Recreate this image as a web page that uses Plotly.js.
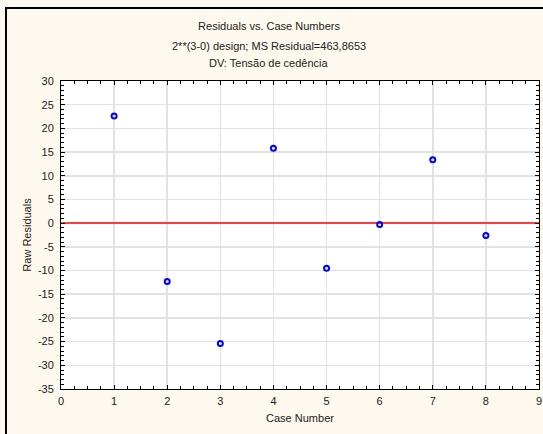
<!DOCTYPE html>
<html>
<head>
<meta charset="utf-8">
<script src="https://cdn.plot.ly/plotly-3.0.1.min.js"></script>
<style>
html,body{margin:0;padding:0;background:#fdf9ee;}
#wrap{position:relative;width:543px;height:434px;overflow:hidden;}
#chart{position:absolute;left:0;top:0;width:543px;height:434px;}
#frame{position:absolute;left:5px;top:7px;width:600px;height:500px;border-left:2px solid #000;border-top:2px solid #000;pointer-events:none;}
</style>
</head>
<body>
<div id="wrap"><div id="chart"></div><div id="frame"></div></div>
<script>
var caseNumbers = [1, 2, 3, 4, 5, 6, 7, 8];
var rawResiduals = [22.6, -12.3, -25.4, 15.8, -9.5, -0.3, 13.4, -2.6];
var titleLines = ["Residuals vs. Case Numbers", "2**(3-0) design; MS Residual=463,8653", "DV: Tensão de cedência"];
var xTitle = "Case Number";
var yTitle = "Raw Residuals";
var xTickVals = [0, 1, 2, 3, 4, 5, 6, 7, 8, 9];
var xTickText = ["0", "1", "2", "3", "4", "5", "6", "7", "8", "9"];
var yTickVals = [30, 25, 20, 15, 10, 5, 0, -5, -10, -15, -20, -25, -30, -35];
var yTickText = ["30", "25", "20", "15", "10", "5", "0", "-5", "-10", "-15", "-20", "-25", "-30", "-35"];

var fontFam = "Liberation Sans, Arial, sans-serif";
var txtColor = "#222222";

var trace = {
  x: caseNumbers,
  y: rawResiduals,
  type: "scatter",
  mode: "markers",
  marker: {symbol: "circle-open", size: 5, color: "#0000ff", line: {width: 2, color: "#0000ff"}},
  hoverinfo: "x+y",
  showlegend: false
};

var layout = {
  width: 543, height: 434,
  margin: {l: 61, r: 4, t: 81, b: 45, pad: 0},
  paper_bgcolor: "rgba(0,0,0,0)",
  plot_bgcolor: "#ffffff",
  font: {family: fontFam, size: 11, color: txtColor},
  title: {text: titleLines[0], x: 269/543, xref: "container", xanchor: "center",
          y: 1 - 26/434, yref: "container", yanchor: "middle",
          font: {family: fontFam, size: 11, color: txtColor}},
  annotations: [
    {text: titleLines[1], xref: "paper", yref: "paper", x: (269-61)/478, y: (389-45.5)/308,
     xanchor: "center", yanchor: "middle", showarrow: false, font: {family: fontFam, size: 11, color: txtColor}},
    {text: titleLines[2], xref: "paper", yref: "paper", x: (269-61)/478, y: (389-63)/308,
     xanchor: "center", yanchor: "middle", showarrow: false, font: {family: fontFam, size: 11, color: txtColor}}
  ],
  xaxis: {
    range: [0, 9], tickmode: "array", tickvals: xTickVals, ticktext: xTickText,
    showgrid: true, gridcolor: "#e2e2e2", gridwidth: 1.5,
    zeroline: false,
    showline: true, linecolor: "#000000", linewidth: 1, mirror: "allticks",
    ticks: "inside", ticklen: 4, tickcolor: "#000000", tickwidth: 1,
    minor: {dtick: 0.25, tick0: 0, ticks: "inside", ticklen: 3, tickcolor: "#000000", showgrid: false},
    tickfont: {family: fontFam, size: 11, color: txtColor},
    ticklabelstandoff: 2,
    title: {text: xTitle, font: {family: fontFam, size: 11, color: txtColor}, standoff: 8}
  },
  yaxis: {
    range: [-35, 30], tickmode: "array", tickvals: yTickVals, ticktext: yTickText,
    showgrid: true, gridcolor: "#e2e2e2", gridwidth: 1.5,
    zeroline: true, zerolinecolor: "#ff3b3b", zerolinewidth: 1.5,
    showline: true, linecolor: "#000000", linewidth: 1, mirror: "allticks",
    ticks: "inside", ticklen: 4, tickcolor: "#000000", tickwidth: 1,
    minor: {dtick: 1, tick0: 0, ticks: "inside", ticklen: 3, tickcolor: "#000000", showgrid: false},
    tickfont: {family: fontFam, size: 11, color: txtColor},
    ticklabelstandoff: 4,
    title: {text: yTitle, font: {family: fontFam, size: 11, color: txtColor}, standoff: 4}
  }
};

Plotly.newPlot("chart", [trace], layout, {displayModeBar: false, staticPlot: true});
</script>
</body>
</html>
